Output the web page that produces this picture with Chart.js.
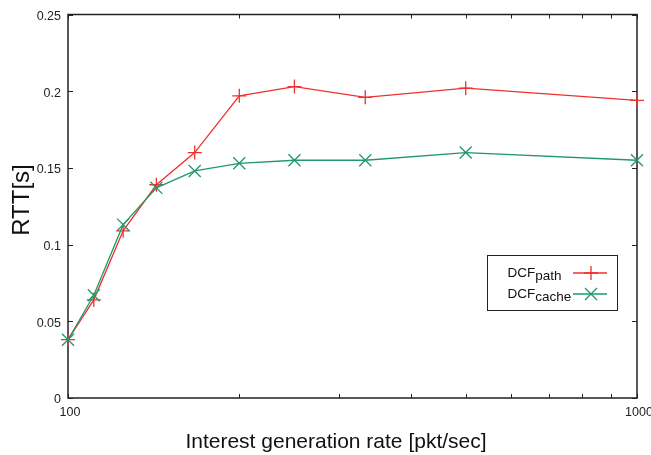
<!DOCTYPE html>
<html>
<head>
<meta charset="utf-8">
<script src="https://cdn.jsdelivr.net/npm/chart.js@4/dist/chart.umd.min.js"></script>
<style>
  html, body { margin: 0; padding: 0; background: #fff; }
  canvas { display: block; }
</style>
</head>
<body>
<canvas id="chart" width="651" height="455"></canvas>
<script>
// Data
const rates = [100, 111, 125, 143, 167, 200, 250, 333, 500, 1000];
const dcfPath = [0.038, 0.064, 0.109, 0.139, 0.160, 0.197, 0.203, 0.196, 0.202, 0.194];
const dcfCache = [0.038, 0.067, 0.113, 0.137, 0.148, 0.153, 0.155, 0.155, 0.160, 0.155];

const yTicks = [0, 0.05, 0.1, 0.15, 0.2, 0.25];
const xTicks = [100, 200, 300, 400, 500, 600, 700, 800, 900, 1000];
const xTickLabels = { 100: '100', 1000: '1000' };

const seriesNames = [['DCF', 'path'], ['DCF', 'cache']];
const RED = '#ee3030';
const GREEN = '#21986a';
const AXIS = '#222';
const FONT = '"Liberation Sans", Arial, Helvetica, sans-serif';

const toPoints = (xs, ys) => xs.map((x, i) => ({ x: x, y: ys[i] }));

// gnuplot style frame, inward ticks, titles and legend
const framePlugin = {
    id: 'frame',
    beforeDatasetsDraw(chart) {
        const { ctx, chartArea: a, scales } = chart;
        ctx.save();
        ctx.strokeStyle = AXIS;
        ctx.lineWidth = 1.5;
        ctx.strokeRect(a.left, a.top, a.right - a.left, a.bottom - a.top);

        ctx.lineWidth = 1;
        ctx.beginPath();
        xTicks.forEach((v) => {
            const px = Math.round(scales.x.getPixelForValue(v)) + 0.5;
            ctx.moveTo(px, a.bottom); ctx.lineTo(px, a.bottom - 4);
            ctx.moveTo(px, a.top); ctx.lineTo(px, a.top + 4);
        });
        yTicks.forEach((v) => {
            const py = Math.round(scales.y.getPixelForValue(v)) + 0.5;
            ctx.moveTo(a.left, py); ctx.lineTo(a.left + 5, py);
            ctx.moveTo(a.right, py); ctx.lineTo(a.right - 5, py);
        });
        ctx.stroke();

        // x tick labels (only the decades)
        ctx.fillStyle = AXIS;
        ctx.font = '12.5px ' + FONT;
        ctx.textAlign = 'center';
        ctx.textBaseline = 'middle';
        Object.keys(xTickLabels).forEach((k) => {
            const px = scales.x.getPixelForValue(Number(k));
            ctx.fillText(xTickLabels[k], px + 2, a.bottom + 15);
        });
        ctx.restore();
    },
    afterDraw(chart) {
        const { ctx } = chart;
        ctx.save();
        ctx.fillStyle = '#111';

        // axis titles
        ctx.font = '21px ' + FONT;
        ctx.textAlign = 'center';
        ctx.textBaseline = 'alphabetic';
        ctx.fillText('Interest generation rate [pkt/sec]', 336, 447.5);

        ctx.save();
        ctx.translate(29, 200);
        ctx.rotate(-Math.PI / 2);
        ctx.font = '24px ' + FONT;
        ctx.fillText('RTT[s]', 0, 0);
        ctx.restore();

        // legend box
        ctx.strokeStyle = AXIS;
        ctx.lineWidth = 1;
        ctx.strokeRect(487.5, 255.5, 130, 55);

        const baselines = [277, 298];
        chart.data.datasets.forEach((ds, i) => {
            const by = baselines[i];
            const [main, sub] = seriesNames[i];
            ctx.fillStyle = '#111';
            ctx.textAlign = 'left';
            ctx.font = '13.5px ' + FONT;
            ctx.fillText(main, 507.5, by);
            const w = ctx.measureText(main).width;
            ctx.fillText(sub, 507.5 + w, by + 3);

            const ly = by - 4;
            ctx.strokeStyle = ds.borderColor;
            ctx.lineWidth = 1.3;
            ctx.beginPath();
            ctx.moveTo(573, ly);
            ctx.lineTo(607, ly);
            ctx.stroke();
            Chart.helpers.drawPoint(ctx, {
                pointStyle: ds.pointStyle,
                radius: ds.pointRadius,
                rotation: 0,
                borderWidth: 1.3
            }, 591, ly);
        });
        ctx.restore();
    }
};

const ctx = document.getElementById('chart').getContext('2d');

new Chart(ctx, {
    type: 'line',
    data: {
        datasets: [
            {
                label: 'DCF path',
                data: toPoints(rates, dcfPath),
                borderColor: RED,
                backgroundColor: RED,
                borderWidth: 1.3,
                pointStyle: 'cross',
                pointRadius: 7,
                pointBorderWidth: 1.3,
                pointBorderColor: RED,
                tension: 0,
                clip: false,
                order: 2
            },
            {
                label: 'DCF cache',
                data: toPoints(rates, dcfCache),
                borderColor: GREEN,
                backgroundColor: GREEN,
                borderWidth: 1.3,
                pointStyle: 'crossRot',
                pointRadius: 8.5,
                pointBorderWidth: 1.3,
                pointBorderColor: GREEN,
                tension: 0,
                clip: false,
                order: 1
            }
        ]
    },
    options: {
        responsive: false,
        devicePixelRatio: 1,
        animation: false,
        events: [],
        layout: { padding: { top: 14, right: 14, left: 0, bottom: 0 } },
        plugins: {
            legend: { display: false },
            tooltip: { enabled: false }
        },
        scales: {
            x: {
                type: 'logarithmic',
                min: 100,
                max: 1000,
                grid: { display: false },
                border: { display: false },
                ticks: { display: false },
                afterFit: (scale) => { scale.height = 57; }
            },
            y: {
                min: 0,
                max: 0.25,
                grid: { display: false, drawTicks: false },
                border: { display: false },
                afterBuildTicks: (scale) => {
                    scale.ticks = yTicks.map((v) => ({ value: v }));
                },
                ticks: {
                    padding: 7,
                    labelOffset: 2,
                    color: AXIS,
                    font: { size: 12.5, family: FONT },
                    callback: (v) => String(Number(v.toFixed(2)))
                },
                afterFit: (scale) => { scale.width = 68; }
            }
        }
    },
    plugins: [framePlugin]
});
</script>
</body>
</html>
